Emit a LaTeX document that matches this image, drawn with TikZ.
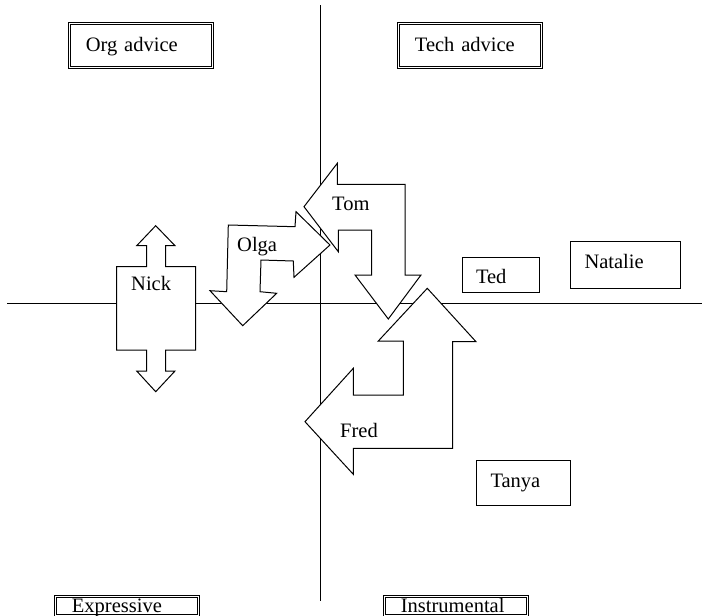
\documentclass[tikz,border=0pt]{standalone}
\usepackage{fontspec}
\setmainfont{Liberation Serif}
\begin{document}
\begin{tikzpicture}[x=1pt,y=-1pt,
  every node/.style={font=\fontsize{20.5}{24}\selectfont},
  axis/.style={line width=1pt},
  arrowshape/.style={draw, fill=white, line width=1pt, line join=miter},
  dbox/.style={draw, double, double distance=1.4pt, line width=0.8pt,
    rectangle, anchor=north west, inner ysep=0pt, inner xsep=15pt,
    text width=110pt, align=left, minimum width=143pt},
  pbox/.style={draw, line width=1pt, rectangle, anchor=north west,
    inner ysep=0pt, align=left},
  lbl/.style={anchor=base west, inner sep=0pt}]
\useasboundingbox (0,0) rectangle (702,616);

% quadrant axes
\coordinate (xl) at (7,303);
\coordinate (xr) at (702,303);
\coordinate (yt) at (320,5);
\coordinate (yb) at (320,601);
\draw[axis] (xl) -- (xr);
\draw[axis] (yt) -- (yb);

% quadrant titles
\node[dbox, minimum height=44pt, text height=14pt, text depth=2pt] (org) at (69,23) {Org advice};
\node[dbox, minimum height=44pt, text height=14pt, text depth=2pt] (tech) at (398,23) {Tech advice};
\node[dbox, minimum height=19pt, text height=14pt, text depth=1pt] (expr) at (55,596) {Expressive};
\node[dbox, minimum height=19pt, text height=14pt, text depth=1pt] (instr) at (384,596) {Instrumental};

% people without a movement
\node[pbox, minimum width=77pt, minimum height=35pt, text width=50pt, inner xsep=13pt,
  text height=17pt, text depth=0pt] (ted) at (462,257) {Ted};
\node[pbox, minimum width=110pt, minimum height=47pt, text width=82pt, inner xsep=14pt,
  text height=14pt, text depth=7pt] (natalie) at (570,241) {Natalie};
\node[pbox, minimum width=94pt, minimum height=45pt, text width=66pt, inner xsep=14pt,
  text height=14pt, text depth=5pt] (tanya) at (476,460) {Tanya};

% Nick: double-headed vertical arrow
\draw[arrowshape] (155.7,225.7) -- (175,245.7) -- (165.7,245.7) -- (165.7,266.7)
  -- (195.7,266.7) -- (195.7,350) -- (165.7,350) -- (165.7,371) -- (175,371)
  -- (155.7,391.7) -- (136.7,371) -- (146.7,371) -- (146.7,350) -- (116.7,350)
  -- (116.7,266.7) -- (146.7,266.7) -- (146.7,245.7) -- (136.7,245.7) -- cycle;
\node[lbl] (nick) at (131,290) {Nick};

% Olga: bent arrow, right and down
\draw[arrowshape] (228.3,225) -- (295,226.7) -- (296,211.7) -- (330,245)
  -- (294,277.3) -- (293.3,261) -- (261,260) -- (260,291.7) -- (276.7,293.3)
  -- (242.7,325.7) -- (210,290.7) -- (226.7,291.7) -- cycle;
\node[lbl] (olga) at (237,251.5) {Olga};

% Fred: bent arrow, up and left
\draw[arrowshape] (427.3,288.3) -- (476,341.7) -- (452.7,341.7) -- (452.7,448.3)
  -- (353.3,448.3) -- (353.3,474.3) -- (305,421.7) -- (353.3,368.3)
  -- (353.3,395) -- (403.3,395) -- (403.3,341) -- (378.3,341) -- cycle;
\node[lbl] (fred) at (340,437) {Fred};

% Tom: bent arrow, left and down
\draw[arrowshape] (304,206.7) -- (337.3,163.3) -- (337.3,184.3) -- (405,184.3)
  -- (405,275) -- (421,275) -- (388.3,319) -- (355,275) -- (371.7,275)
  -- (371.7,230) -- (338.3,230) -- (338.3,251.7) -- cycle;
\node[lbl] (tom) at (332,210) {Tom};
\end{tikzpicture}
\end{document}
